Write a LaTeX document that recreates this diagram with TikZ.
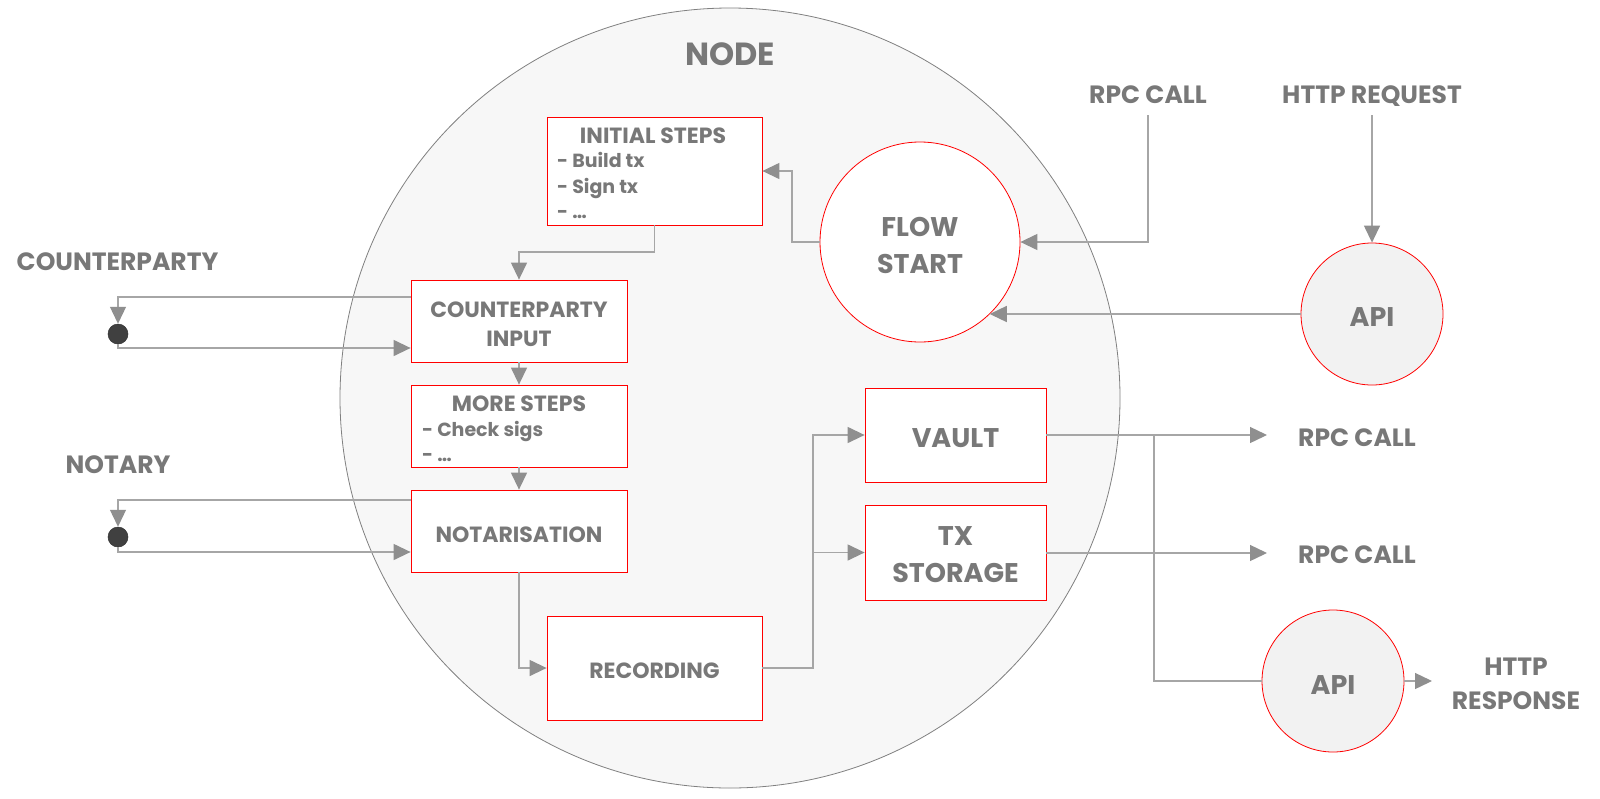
\documentclass[tikz,border=0pt]{standalone}
\usepackage{fontspec}
\setmainfont{Poppins}
\usetikzlibrary{arrows.meta}
\definecolor{txt}{RGB}{120,120,120}
\definecolor{lgray}{RGB}{166,166,166}
\definecolor{agray}{RGB}{143,143,143}
\definecolor{bigfill}{RGB}{247,247,247}
\definecolor{bigline}{RGB}{128,128,128}
\definecolor{apifill}{RGB}{242,242,242}
\definecolor{dotc}{RGB}{64,64,64}
\begin{document}
\begin{tikzpicture}[x=1pt,y=-1pt,
  lbl/.style={text=txt, inner sep=0pt, anchor=base, font=\fontsize{25}{30}\selectfont\bfseries},
  bigl/.style={lbl, font=\fontsize{32}{38}\selectfont\bfseries},
  btxt/.style={lbl, font=\fontsize{22}{26}\selectfont\bfseries},
  ctxt/.style={lbl, font=\fontsize{27}{32}\selectfont\bfseries},
  ltxt/.style={lbl, anchor=base west, font=\fontsize{19}{24}\selectfont\bfseries},
  box/.style={draw=red, fill=white, line width=0.8pt, inner sep=0pt, rectangle},
  rcirc/.style={draw=red, line width=0.8pt, circle, inner sep=0pt},
  dotn/.style={circle, fill=dotc, draw=black!80, line width=0.5pt, minimum size=20pt, inner sep=0pt},
  conn/.style={draw=lgray, line width=1.3pt},
  arr/.style={conn, -{Triangle[length=17pt,width=16pt,color=agray]}}
]
\useasboundingbox (0,0) rectangle (1600,798);
\fill[white] (0,0) rectangle (1600,798);

% big node circle
\node[circle, minimum size=780pt, inner sep=0pt, fill=bigfill, draw=bigline, line width=0.8pt] (nodec) at (730,398) {};
\node[bigl] (nodelbl) at (730,65) {NODE};

% boxes
\node[box, minimum width=215pt, minimum height=108pt] (init) at (654.5,171) {};
\node[box, minimum width=216pt, minimum height=82pt] (cpin) at (519,321) {};
\node[box, minimum width=216pt, minimum height=82pt] (more) at (519,426) {};
\node[box, minimum width=216pt, minimum height=82pt] (notar) at (519,531) {};
\node[box, minimum width=215pt, minimum height=104pt] (rec) at (654.5,668) {};
\node[box, minimum width=181pt, minimum height=94pt] (vault) at (955.5,435) {};
\node[box, minimum width=181pt, minimum height=95pt] (txs) at (955.5,552.5) {};

% circles
\node[rcirc, fill=white, minimum size=200pt] (flow) at (920,242) {};
\node[rcirc, fill=apifill, minimum size=142pt] (api1) at (1372,314) {};
\node[rcirc, fill=apifill, minimum size=142pt] (api2) at (1333,681) {};
\node[dotn] (dot1) at (118,334) {};
\node[dotn] (dot2) at (118,537) {};

% box texts
\node[btxt] (initT) at (653,143) {INITIAL STEPS};
\node[ltxt] (initA) at (557,167) {- Build tx};
\node[ltxt] (initB) at (557,193) {- Sign tx};
\node[ltxt] (initC) at (557,218) {- …};
\node[btxt] (cpinA) at (519,317) {COUNTERPARTY};
\node[btxt] (cpinB) at (519,346) {INPUT};
\node[btxt] (moreT) at (519,411) {MORE STEPS};
\node[ltxt] (moreA) at (422,436) {- Check sigs};
\node[ltxt] (moreB) at (422,461) {- …};
\node[btxt] (notarT) at (519,542) {NOTARISATION};
\node[btxt] (recT) at (654.5,678) {RECORDING};
\node[ctxt] (vaultT) at (955.5,447) {VAULT};
\node[ctxt] (txsA) at (955.5,545) {TX};
\node[ctxt] (txsB) at (955.5,582) {STORAGE};
\node[ctxt] (flowA) at (920,236) {FLOW};
\node[ctxt] (flowB) at (920,273) {START};
\node[ctxt] (api1T) at (1372,326) {API};
\node[ctxt] (api2T) at (1333,694) {API};

% outside labels
\node[lbl] (cpL) at (117.5,270) {COUNTERPARTY};
\node[lbl] (notL) at (118,473) {NOTARY};
\node[lbl] (rpcTop) at (1148,103) {RPC CALL};
\node[lbl] (httpReq) at (1372,103) {HTTP REQUEST};
\node[lbl, anchor=base west] (rpcR1) at (1298,446) {RPC CALL};
\node[lbl, anchor=base west] (rpcR2) at (1298,563) {RPC CALL};
\node[lbl] (httpResA) at (1516,675) {HTTP};
\node[lbl] (httpResB) at (1516,709) {RESPONSE};

% connector coordinates
\coordinate (rpcTopEnd) at (1148,115);
\coordinate (httpEnd) at (1372,115);
\coordinate (rpc1Tip) at (1267,435);
\coordinate (rpc2Tip) at (1267,553);
\coordinate (respTip) at (1432,681);

% connectors
\draw[arr] (flow.west) -- (792,242) |- (init.east);
\draw[arr] (rpcTopEnd) |- (flow.east);
\draw[arr] (httpEnd) -- (api1.north);
\draw[arr] (api1.west) -- (api1.west -| flow.-46);
\draw[arr] (init.south) |- (519,252) -- (cpin.north);
\draw[arr] (cpin.south) -- (more.north);
\draw[arr] (more.south) -- (notar.north);
\draw[arr] (notar.south) |- (rec.west);
\draw[arr] (rec.east) -| (813,435) -- (vault.west);
\draw[arr] (813,552.5) -- (txs.west);
\draw[arr] (vault.east) -- (rpc1Tip);
\draw[arr] (txs.east |- 553,553) -- (rpc2Tip);
\draw[conn] (1154,435) |- (api2.west);
\draw[arr] (api2.east) -- (respTip);
\draw[arr] (cpin.west |- 0,297) -| (dot1.north);
\draw[arr] (dot1.south) |- (cpin.west |- 0,348);
\draw[arr] (notar.west |- 0,500) -| (dot2.north);
\draw[arr] (dot2.south) |- (notar.west |- 0,552);
\end{tikzpicture}
\end{document}
